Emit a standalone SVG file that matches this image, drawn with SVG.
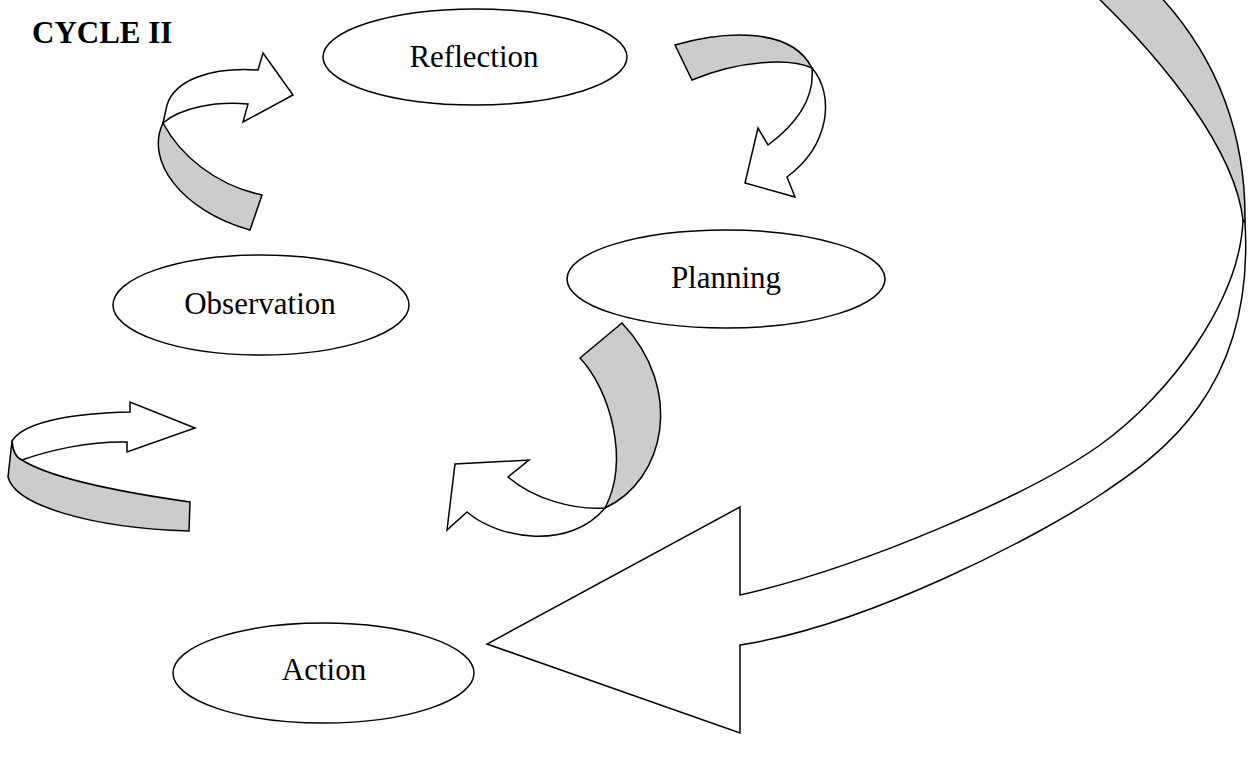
<svg xmlns="http://www.w3.org/2000/svg" width="1260" height="758" viewBox="0 0 1260 758">
<style>
.node ellipse{fill:#fff;stroke:#000;stroke-width:1.5}
.node text{font-family:"Liberation Serif","Times New Roman",serif;font-size:31px;fill:#000;text-anchor:middle}
.w{fill:#fff;stroke:#000;stroke-width:1.5;stroke-linejoin:miter}
.g{fill:#cccccc;stroke:#000;stroke-width:1.5;stroke-linejoin:miter}
.title{font-family:"Liberation Serif","Times New Roman",serif;font-size:31px;font-weight:bold;fill:#000}
</style>
<rect width="1260" height="758" fill="#fff"/>
<text class="title" x="32" y="43">CYCLE II</text>
<g id="connectors">
  <g id="arrow-observation-reflection">
    <path class="g" d="M163,123 C145,160 180,210 250,230 L262,195 C215,185 180,155 163,123 Z"/>
    <path class="w" d="M163,123 L167,105 C175,80 210,67 258,70 L263,53 L293,95 L243,122 L248,104 C215,101 180,108 163,123 Z"/>
  </g>
  <g id="arrow-reflection-planning">
    <path class="g" d="M675,45 C720,32 790,25 812,68 C790,58 740,60 692,80 Z"/>
    <path class="w" d="M812,68 C835,95 830,145 787,177 L795,197 L745,183 L758,128 L768,145 C795,125 815,100 812,68 Z"/>
  </g>
  <g id="arrow-planning-action">
    <path class="g" d="M580,358 C610,390 630,460 605,508 C665,480 685,390 622,323 Z"/>
    <path class="w" d="M605,508 C575,510 535,500 508,477 L529,460 L455,464 L447,530 L467,512 C500,540 570,550 605,508 Z"/>
  </g>
  <g id="arrow-action-observation">
    <path class="g" d="M12,441 L8,477 C15,505 90,528 189,531 L190,502 C120,492 50,478 22,460 C17,458 13,452 12,441 Z"/>
    <path class="w" d="M130,412 C80,413 25,420 12,441 C13,452 17,458 22,460 C50,450 90,441 127,442 L127,452 L195,428 L130,402 Z"/>
  </g>
  <g id="arrow-cycle-return">
    <path class="w" d="M740,595 C860,568 1030,495 1100,445 C1170,395 1240,300 1243,220 L1245,222 C1255,390 1160,455 1100,495 C1040,535 870,625 740,645 L740,733 L487,644 L740,507 Z"/>
    <path class="g" d="M1094,-6 C1165,62 1235,150 1243,220 L1245,222 C1246,130 1215,55 1158,-6 Z"/>
  </g>
</g>
<g id="node-reflection" class="node">
  <ellipse cx="475" cy="57" rx="152" ry="48"/>
  <text x="474" y="67">Reflection</text>
</g>
<g id="node-planning" class="node">
  <ellipse cx="726" cy="279" rx="159" ry="49"/>
  <text x="726" y="288">Planning</text>
</g>
<g id="node-observation" class="node">
  <ellipse cx="261" cy="305" rx="148" ry="50"/>
  <text x="260" y="314">Observation</text>
</g>
<g id="node-action" class="node">
  <ellipse cx="323.5" cy="673" rx="150.5" ry="50"/>
  <text x="324" y="680">Action</text>
</g>
</svg>
